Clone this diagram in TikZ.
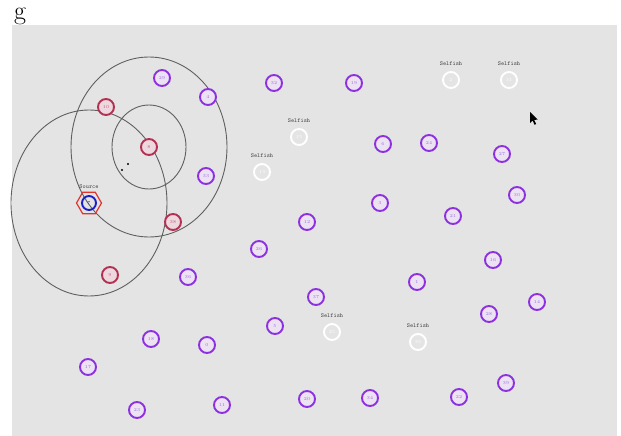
\documentclass[tikz,border=0pt]{standalone}
\usetikzlibrary{positioning,shapes.geometric}

\definecolor{panelgray}{RGB}{228,228,228}
\definecolor{ringgray}{RGB}{95,95,95}
\definecolor{peerline}{RGB}{140,48,224}
\definecolor{peerfill}{RGB}{236,226,242}
\definecolor{peertext}{RGB}{150,110,230}
\definecolor{relayline}{RGB}{180,48,82}
\definecolor{relayfill}{RGB}{236,216,222}
\definecolor{relaytext}{RGB}{200,90,120}
\definecolor{srcline}{RGB}{226,52,44}
\definecolor{srcblue}{RGB}{30,30,200}

\tikzset{
  peer/.style={circle, draw=peerline, line width=1.9pt, fill=peerfill,
    minimum size=16pt, inner sep=0pt, text=peertext,
    font=\fontsize{4.5}{5}\selectfont},
  relay/.style={peer, draw=relayline, fill=relayfill, text=relaytext},
  selfish/.style={peer, draw=white, fill=panelgray, text=white},
  tag/.style={font=\ttfamily\fontsize{6}{6}\selectfont, text=black!75,
    inner sep=0pt},
  ring/.style={draw=ringgray, line width=0.9pt},
}

\begin{document}
\begin{tikzpicture}[x=1pt,y=-1pt]
    \useasboundingbox (0,0) rectangle (621,436);

    % Panel and caption letter
    \fill[panelgray] (12,25) rectangle (617,436);
    \node[font=\fontsize{26}{26}\selectfont, inner sep=0pt, anchor=base] (cap) at (20,20) {g};

    % Centres of the ranges
    \coordinate (c8) at (149,147);
    \coordinate (c7) at (89,203);

    % Transmission ranges
    \draw[ring] (c8) ellipse [x radius=37, y radius=42];
    \draw[ring] (c8) ellipse [x radius=78, y radius=90];
    \draw[ring] (c7) ellipse [x radius=78, y radius=93];

    % Source
    \node[regular polygon, regular polygon sides=6, draw=srcline, line width=1.2pt,
          minimum size=25pt, inner sep=0pt] (srchex) at (c7) {};
    \node[peer, draw=srcblue, fill=none, text=srcblue, minimum size=14pt] (n7) at (c7) {7};
    \node[tag, above=3pt of srchex] (tsrc) {Source};

    % Relay nodes
    \node[relay] (n10) at (106,107) {10};
    \node[relay] (n8) at (c8) {8};
    \node[relay] (n38) at (173,222) {38};
    \node[relay] (n9) at (110,275) {9};

    % Dots between 8 and the source
    \fill[black] (122,170) circle (1.2);
    \fill[black] (128,164) circle (1.2);

    % Ordinary nodes
    \node[peer] (n29) at (162,78) {29};
    \node[peer] (n4) at (208,97) {4};
    \node[peer] (n32) at (274,83) {32};
    \node[peer] (n19) at (354,83) {19};
    \node[peer] (n6) at (383,144) {6};
    \node[peer] (n24) at (429,143) {24};
    \node[peer] (n27) at (502,154) {27};
    \node[peer] (n33) at (206,176) {33};
    \node[peer] (n30) at (517,195) {30};
    \node[peer] (n3) at (380,203) {3};
    \node[peer] (n21) at (453,216) {21};
    \node[peer] (n12) at (307,222) {12};
    \node[peer] (n26) at (259,249) {26};
    \node[peer] (n16) at (493,260) {16};
    \node[peer] (n36) at (188,277) {36};
    \node[peer] (n1) at (417,282) {1};
    \node[peer] (n37) at (316,297) {37};
    \node[peer] (n14) at (537,302) {14};
    \node[peer] (n28) at (489,314) {28};
    \node[peer] (n5) at (275,326) {5};
    \node[peer] (n18) at (151,339) {18};
    \node[peer] (n0) at (207,345) {0};
    \node[peer] (n17) at (88,367) {17};
    \node[peer] (n39) at (506,383) {39};
    \node[peer] (n22) at (459,397) {22};
    \node[peer] (n34) at (370,398) {34};
    \node[peer] (n20) at (307,399) {20};
    \node[peer] (n11) at (222,405) {11};
    \node[peer] (n23) at (137,410) {23};

    % Selfish nodes
    \node[selfish] (n2) at (451,80) {2};
    \node[selfish] (n31) at (509,80) {31};
    \node[selfish] (n15) at (299,137) {15};
    \node[selfish] (n13) at (262,172) {13};
    \node[selfish] (n25) at (332,332) {25};
    \node[selfish] (n35) at (418,342) {35};
    \node[tag, above=5pt of n2] (t2) {Selfish};
    \node[tag, above=5pt of n31] (t31) {Selfish};
    \node[tag, above=5pt of n15] (t15) {Selfish};
    \node[tag, above=5pt of n13] (t13) {Selfish};
    \node[tag, above=5pt of n25] (t25) {Selfish};
    \node[tag, above=5pt of n35] (t35) {Selfish};

    % Mouse pointer
    \fill[black] (530,112) -- (530,123) -- (532.6,120.6) -- (534.6,124.8)
        -- (536.2,124) -- (534.2,119.9) -- (537.6,119.6) -- cycle;
\end{tikzpicture}
\end{document}
